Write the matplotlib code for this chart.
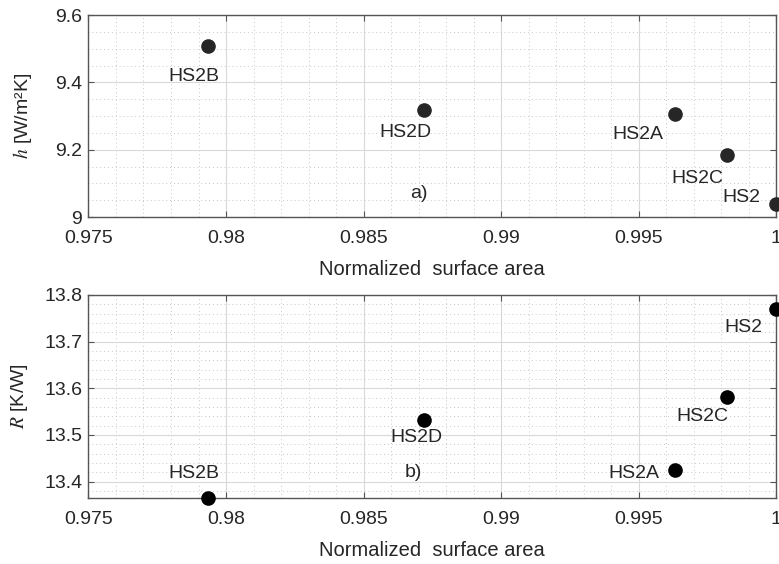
import matplotlib.pyplot as plt
from matplotlib.ticker import FormatStrFormatter, MultipleLocator

plt.rcParams["font.family"] = ["Liberation Sans", "DejaVu Sans"]
plt.rcParams["mathtext.fontset"] = "stix"

# data
names = ["HS2", "HS2A", "HS2B", "HS2C", "HS2D"]
area = [1.0, 0.99631, 0.97934, 0.99821, 0.9872]
h_coef = [9.039, 9.306, 9.508, 9.184, 9.318]
r_res = [13.770, 13.425, 13.365, 13.582, 13.532]

# label offsets in pixels (dx, dy) for each point
h_offsets = [(-35, 6), (-37, -21), (-14, -31), (-29, -23), (-19, -23)]
r_offsets = [(-33, -19), (-41, -3), (-14, 25), (-24, -20), (-8, -17)]

xticks = [0.975, 0.98, 0.985, 0.99, 0.995, 1.0]
text_col = "#262626"
grid_col = "#d9d9d9"
fs = 14


def style_axes(ax):
    ax.set_xlim(0.975, 1.0)
    ax.set_xticks(xticks)
    ax.xaxis.set_major_formatter(FormatStrFormatter("%g"))
    ax.yaxis.set_major_formatter(FormatStrFormatter("%g"))
    ax.xaxis.set_minor_locator(MultipleLocator(0.001))
    ax.grid(True, which="major", color=grid_col, linewidth=0.8)
    ax.grid(True, which="minor", color="#c8c8c8", linestyle=(0, (1, 3)), linewidth=0.7)
    ax.set_axisbelow(True)
    ax.tick_params(which="major", direction="in", length=4, width=0.8,
                   top=True, right=True, colors="#555555",
                   labelcolor=text_col, labelsize=fs)
    ax.tick_params(axis="x", which="major", pad=9)
    ax.tick_params(axis="y", which="major", pad=4.5)
    ax.tick_params(which="minor", length=0, top=True, right=True)
    for sp in ax.spines.values():
        sp.set_color("#555555")
        sp.set_linewidth(1.0)
    ax.set_xlabel("Normalized  surface area", fontsize=14.5, color=text_col, labelpad=10)


fig = plt.figure(figsize=(7.79, 5.64), dpi=100)
ax1 = fig.add_axes([0.1136, 0.6152, 0.8826, 0.3582])
ax2 = fig.add_axes([0.1136, 0.1170, 0.8826, 0.3600])

# top: heat transfer coefficient
ax1.plot(area, h_coef, "o", color="#262626", markersize=9.5, linestyle="none", clip_on=False, zorder=3)
ax1.set_ylim(9.0, 9.6)
ax1.set_yticks([9.0, 9.2, 9.4, 9.6])
ax1.yaxis.set_minor_locator(MultipleLocator(0.05))
style_axes(ax1)
ax1.set_ylabel("$h$ [W/m²K]", fontsize=fs, color=text_col, va="center")
ax1.yaxis.set_label_coords(-0.0963, 0.5)
for n, x, y, off in zip(names, area, h_coef, h_offsets):
    ax1.annotate(n, (x, y), xytext=off, textcoords="offset pixels",
                 ha="center", va="center", fontsize=fs, color=text_col)
ax1.text(0.9870, 9.071, "a)", ha="center", va="center", fontsize=fs, color=text_col)

# bottom: thermal resistance
ax2.plot(area, r_res, "o", color="black", markersize=9.5, linestyle="none", clip_on=False, zorder=3)
ax2.set_ylim(13.365, 13.8)
ax2.set_yticks([13.4, 13.5, 13.6, 13.7, 13.8])
ax2.yaxis.set_minor_locator(MultipleLocator(0.02))
style_axes(ax2)
ax2.set_ylabel("$R$ [K/W]", fontsize=fs, color=text_col, va="center")
ax2.yaxis.set_label_coords(-0.1004, 0.5)
for n, x, y, off in zip(names, area, r_res, r_offsets):
    ax2.annotate(n, (x, y), xytext=off, textcoords="offset pixels",
                 ha="center", va="center", fontsize=fs, color=text_col)
ax2.text(0.9868, 13.419, "b)", ha="center", va="center", fontsize=fs, color=text_col)

fig.savefig("out.png", dpi=100)
plt.close(fig)
